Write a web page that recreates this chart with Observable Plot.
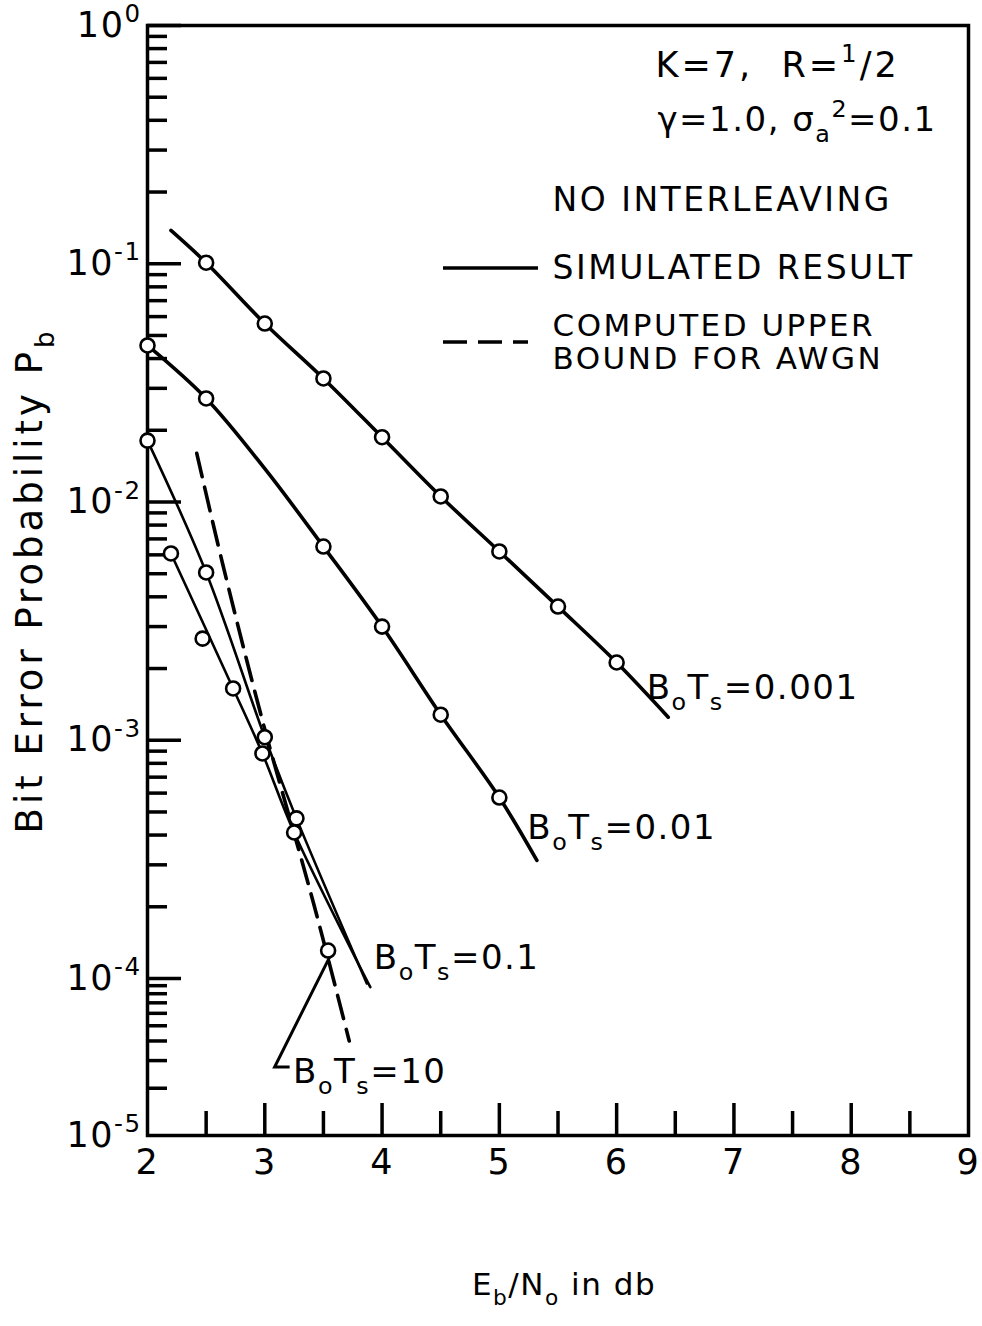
<!DOCTYPE html>
<html><head><meta charset="utf-8">
<script src="https://cdn.jsdelivr.net/npm/d3@7"></script>
<script src="https://cdn.jsdelivr.net/npm/@observablehq/plot@0.6"></script>
<style>
html,body{margin:0;padding:0;background:#fff;}
#chart svg text{letter-spacing:1.5px;}
#chart svg text.wide{letter-spacing:2.5px;}
#chart svg text.param{letter-spacing:3px;}
#chart svg text.title{letter-spacing:4px;}
</style></head>
<body><div id="chart"></div>
<script>
// ---------- axis ticks / labels ----------
const xTickLabels = [2, 3, 4, 5, 6, 7, 8, 9];
const xMajorTicks = [3, 4, 5, 6, 7, 8];
const xMinorTicks = [2.5, 3.5, 4.5, 5.5, 6.5, 7.5, 8.5];
const yDecades = [1, 1e-1, 1e-2, 1e-3, 1e-4, 1e-5];
const yDecadeLabels = ["10^{0}", "10^{-1}", "10^{-2}", "10^{-3}", "10^{-4}", "10^{-5}"];
const yMinorMultipliers = [2, 3, 4, 5, 6, 7, 8, 9];
const yMinorDecades = [1e-1, 1e-2, 1e-3, 1e-4, 1e-5];

// ---------- series: B0Ts = 0.001 ----------
const ebno_bt0001 = [2.5, 3.0, 3.5, 4.0, 4.5, 5.0, 5.5, 6.0];
const pb_bt0001 = [0.101, 0.0561, 0.033, 0.0187, 0.01055, 0.0062, 0.00364, 0.00212];
const curveX_bt0001 = [2.2, 2.5, 3.0, 3.5, 4.0, 4.5, 5.0, 5.5, 6.0, 6.44];
const curvePb_bt0001 = [0.138, 0.101, 0.0561, 0.033, 0.0187, 0.01055, 0.0062, 0.00364, 0.00212, 0.00125];

// ---------- series: B0Ts = 0.01 ----------
const ebno_bt001 = [2.0, 2.5, 3.5, 4.0, 4.5, 5.0];
const pb_bt001 = [0.0454, 0.0272, 0.0065, 0.0030, 0.00128, 0.000575];
const curveX_bt001 = [2.0, 2.5, 3.0, 3.5, 4.0, 4.5, 5.0, 5.32];
const curvePb_bt001 = [0.0454, 0.0272, 0.0138, 0.0065, 0.0030, 0.00128, 0.000575, 0.000313];

// ---------- series: B0Ts = 0.1 ----------
const ebno_bt01 = [2.0, 2.5, 3.0, 3.27];
const pb_bt01 = [0.0181, 0.00506, 0.00103, 0.00047];
const curveX_bt01 = [2.0, 2.5, 3.0, 3.27, 3.87];
const curvePb_bt01 = [0.0181, 0.00506, 0.00103, 0.00047, 0.000093];

// ---------- series: B0Ts = 10 ----------
const ebno_bt10 = [2.2, 2.47, 2.73, 2.98, 3.25, 3.54];
const pb_bt10 = [0.00608, 0.00267, 0.00165, 0.00088, 0.00041, 0.000131];
const curveX_bt10 = [2.2, 2.73, 2.98, 3.25, 3.90];
const curvePb_bt10 = [0.00608, 0.00165, 0.00088, 0.00041, 0.000088];

// ---------- computed upper bound for AWGN ----------
const awgnX = [2.42, 2.64, 2.98, 3.41, 3.72];
const awgnPb = [0.016, 0.00552, 0.00121, 0.000212, 0.000040];

// ---------- texts ----------
const paramLine1 = "K=7,  R=^{1}/2";
const paramLine2 = "γ=1.0, σ_{a}^{2}=0.1";
const interleaveText = "NO INTERLEAVING";
const legendSolidText = "SIMULATED RESULT";
const legendDashedLines = ["COMPUTED UPPER", "BOUND FOR AWGN"];
const seriesLabels = ["B_{o}T_{s}=0.001", "B_{o}T_{s}=0.01", "B_{o}T_{s}=0.1", "B_{o}T_{s}=10"];
const xTitle = "E_{b}/N_{o} in db";
const yTitle = "Bit Error Probability P_{b}";

// ---------- build tables ----------
const zip = (xs, ys) => xs.map((x, i) => ({x, y: ys[i]}));
const curves = [
  {data: zip(curveX_bt0001, curvePb_bt0001), w: 3.6},
  {data: zip(curveX_bt001, curvePb_bt001), w: 3.6},
  {data: zip(curveX_bt01, curvePb_bt01), w: 2.6},
  {data: zip(curveX_bt10, curvePb_bt10), w: 2.6}
];
const points = [
  ...zip(ebno_bt0001, pb_bt0001), ...zip(ebno_bt001, pb_bt001),
  ...zip(ebno_bt01, pb_bt01), ...zip(ebno_bt10, pb_bt10)
];
const awgn = zip(awgnX, awgnPb);
const yMinor = yMinorDecades.flatMap(d => yMinorMultipliers.map(m => d * m));

const last = (xs, ys) => ({x: xs[xs.length - 1], y: ys[ys.length - 1]});
const anchor0001 = last(ebno_bt0001, pb_bt0001);
const anchor001 = last(ebno_bt001, pb_bt001);
const anchor01 = last(curveX_bt01, curvePb_bt01);
const anchor10 = last(ebno_bt10, pb_bt10);

const W = 982, H = 1326;
const FONT = "DejaVu Sans";

function legendMark(index, scales, values, dims) {
  const L = dims.marginLeft, T = dims.marginTop;
  const g = d3.create("svg:g").attr("stroke", "black").attr("stroke-width", 3.5).attr("fill", "none");
  g.append("line").attr("x1", L + 296).attr("x2", L + 391).attr("y1", T + 243).attr("y2", T + 243);
  g.append("line").attr("x1", L + 296).attr("x2", L + 381).attr("y1", T + 317).attr("y2", T + 317)
    .attr("stroke-dasharray", "24,11");
  return g.node();
}
function leaderMark(index, scales) {
  const x0 = scales.x(anchor10.x), y0 = scales.y(anchor10.y);
  const p = d3.path();
  p.moveTo(x0 + 2, y0 + 7);
  p.lineTo(x0 - 53, y0 + 117);
  p.lineTo(x0 - 38, y0 + 117);
  return d3.create("svg:path").attr("d", p.toString()).attr("fill", "none")
    .attr("stroke", "black").attr("stroke-width", 3).node();
}

const note = (txt, dx, dy, fontSize, extra = {}) =>
  Plot.text([txt], {frameAnchor: "top-left", text: d => d, textAnchor: "start", lineAnchor: "middle",
    dx, dy, fontSize, ...extra});

const chart = Plot.plot({
  width: W,
  height: H,
  marginLeft: 147,
  marginRight: 14,
  marginTop: 25,
  marginBottom: 191,
  style: {fontFamily: FONT, background: "white", color: "black", overflow: "visible"},
  x: {domain: [2, 9]},
  y: {type: "log", domain: [1e-5, 1e-4, 1], range: [1135, 978, 25]},
  marks: [
    Plot.frame({stroke: "black", strokeWidth: 3.5}),
    // inward ticks
    Plot.axisY({ticks: yMinor, tickSize: -20, strokeWidth: 3.5, fill: "none", label: null}),
    Plot.axisY({ticks: yDecades.slice(0, 5), tickSize: -34, strokeWidth: 3.5, fill: "none", label: null}),
    Plot.axisX({ticks: xMajorTicks, tickSize: -32, strokeWidth: 3.5, fill: "none", label: null}),
    Plot.axisX({ticks: xMinorTicks, tickSize: -24, strokeWidth: 3.5, fill: "none", label: null}),
    // tick labels
    Plot.text(yDecades, {y: d => d, frameAnchor: "left", text: (d, i) => yDecadeLabels[i],
      textAnchor: "end", lineAnchor: "middle", dx: -6, fontSize: 35}),
    Plot.text(xTickLabels, {x: d => d, frameAnchor: "bottom", text: d => String(d),
      lineAnchor: "middle", dy: 27, fontSize: 35}),
    // axis titles
    Plot.text([xTitle], {frameAnchor: "bottom", text: d => d, lineAnchor: "middle", textAnchor: "middle",
      dx: 6, dy: 150, fontSize: 31}),
    Plot.text([yTitle], {frameAnchor: "left", text: d => d, rotate: -90, textAnchor: "middle", lineAnchor: "middle",
      dx: -117, dy: 0, fontSize: 37}),
    // AWGN bound
    Plot.line(awgn, {x: "x", y: "y", stroke: "black", strokeWidth: 3.6, strokeDasharray: "24,11", curve: "catmull-rom"}),
    // simulated curves
    ...curves.map(c => Plot.line(c.data, {x: "x", y: "y", stroke: "black", strokeWidth: c.w, curve: "catmull-rom"})),
    Plot.dot(points, {x: "x", y: "y", r: 7, fill: "white", stroke: "black", strokeWidth: 2.6}),
    // series labels
    Plot.text([anchor0001], {x: "x", y: "y", text: () => seriesLabels[0], textAnchor: "start", dx: 30, dy: 26, fontSize: 34}),
    Plot.text([anchor001], {x: "x", y: "y", text: () => seriesLabels[1], textAnchor: "start", dx: 28, dy: 31, fontSize: 34}),
    Plot.text([anchor01], {x: "x", y: "y", text: () => seriesLabels[2], textAnchor: "start", dx: 7, dy: -25, fontSize: 34}),
    Plot.text([anchor10], {x: "x", y: "y", text: () => seriesLabels[3], textAnchor: "start", dx: -35, dy: 122, fontSize: 34}),
    leaderMark,
    // annotation block
    note(paramLine1, 508, 40, 35),
    note(paramLine2, 510, 95, 34),
    note(interleaveText, 405, 175, 33),
    note(legendSolidText, 405, 243, 33),
    note(legendDashedLines[0], 405, 301, 31),
    note(legendDashedLines[1], 405, 334, 31),
    legendMark
  ]
});

document.getElementById("chart").appendChild(chart);

// letter spacing classes
chart.querySelectorAll("text").forEach(t => {
  const s = t.textContent;
  if (/^(NO INTER|SIMULATED|COMPUTED|BOUND)/.test(s)) t.classList.add("wide");
  if (/^K=7/.test(s)) t.classList.add("param");
  if (/^Bit Error/.test(s)) t.classList.add("title");
});

// rich text: _{sub} and ^{sup}
function richify(svg) {
  const NS = "http://www.w3.org/2000/svg";
  svg.querySelectorAll("text").forEach(t => {
    const s = t.textContent;
    if (!/[_^]\{/.test(s)) return;
    const fs = parseFloat(getComputedStyle(t).fontSize) || 30;
    while (t.firstChild) t.removeChild(t.firstChild);
    const re = /([_^])\{([^}]*)\}|([^_^]+)/g;
    let m, shift = 0;
    while ((m = re.exec(s))) {
      const ts = document.createElementNS(NS, "tspan");
      if (m[3] !== undefined) {
        ts.textContent = m[3];
        if (shift !== 0) ts.setAttribute("dy", -shift);
        shift = 0;
      } else {
        const isSub = m[1] === "_";
        const target = isSub ? 0.32 * fs : -0.42 * fs;
        ts.textContent = m[2];
        ts.setAttribute("font-size", 0.7 * fs);
        ts.setAttribute("dy", target - shift);
        shift = target;
      }
      t.appendChild(ts);
    }
  });
}
richify(chart);
</script>
</body></html>
